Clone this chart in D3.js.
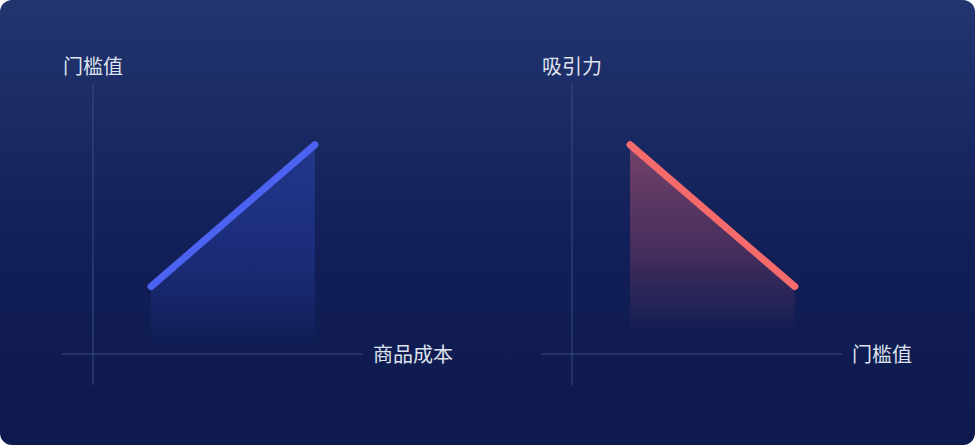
<!DOCTYPE html>
<html><head><meta charset="utf-8">
<script src="https://cdn.jsdelivr.net/npm/d3@7"></script>
<style>html,body{margin:0;padding:0;background:#fff;overflow:hidden}</style>
</head><body><svg id="c" width="975" height="445"></svg>
<script>
// data
const panels = ["left", "right"];
const yTitles = ["门槛值", "吸引力"];
const xTitles = ["商品成本", "门槛值"];
const xValues = [[2.15, 8.22], [2.15, 8.25]];
const yValues = [[2.5, 7.75], [7.75, 2.5]];
const lineColors = ["#4c63f2", "#f56b6b"];

const svg = d3.select("#c");
const defs = svg.append("defs");
const bg = defs.append("linearGradient").attr("id","bg").attr("x1",0).attr("y1",0).attr("x2",0).attr("y2",1);
bg.append("stop").attr("offset","0%").attr("stop-color","#22356f");
bg.append("stop").attr("offset","55%").attr("stop-color","#121f58");
bg.append("stop").attr("offset","100%").attr("stop-color","#0e1a4c");
svg.append("rect").attr("x",0).attr("y",0).attr("width",975).attr("height",445).attr("rx",12).attr("fill","url(#bg)");

const areaStops = [
  [["0%","#2b44b0",0.55],["60%","#2a43b0",0.35],["100%","#2a43b0",0]],
  [["0%","#ff6b78",0.4],["55%","#d0566a",0.28],["100%","#c05066",0]]
];
const areaBottom = [0.2, 0.7];

panels.forEach((p, i) => {
  const ox = i === 0 ? 93 : 572;
  const x = d3.scaleLinear().domain([0, 10]).range([ox, ox + 270]);
  const y = d3.scaleLinear().domain([0, 10]).range([354, 84]);
  const g = svg.append("g");
  // axes
  g.append("line").attr("x1", x(0)).attr("x2", x(0)).attr("y1", y(10)).attr("y2", 385)
    .attr("stroke", "#3b4a80").attr("stroke-width", 1);
  g.append("line").attr("x1", x(0) - 31).attr("x2", x(10)).attr("y1", y(0)).attr("y2", y(0))
    .attr("stroke", "#3b4a80").attr("stroke-width", 1.2);
  g.append("text").attr("x", x(0) - 30).attr("y", 74).text(yTitles[i])
    .attr("fill", "#dde2ee").attr("font-size", 20).attr("font-family", "'Noto Sans CJK SC', sans-serif");
  g.append("text").attr("x", x(10) + 10).attr("y", 362).text(xTitles[i])
    .attr("fill", "#dde2ee").attr("font-size", 20).attr("font-family", "'Noto Sans CJK SC', sans-serif");

  const pts = xValues[i].map((v, k) => [v, yValues[i][k]]);
  const gid = "ag" + i;
  const topY = y(d3.max(yValues[i]));
  const grad = defs.append("linearGradient").attr("id", gid).attr("gradientUnits","userSpaceOnUse")
    .attr("x1",0).attr("y1",topY).attr("x2",0).attr("y2",y(areaBottom[i]));
  areaStops[i].forEach(s => grad.append("stop").attr("offset", s[0]).attr("stop-color", s[1]).attr("stop-opacity", s[2]));
  const area = d3.area().x(d => x(d[0])).y0(y(areaBottom[i])).y1(d => y(d[1]));
  g.append("path").datum(pts).attr("d", area).attr("fill", `url(#${gid})`);
  const line = d3.line().x(d => x(d[0])).y(d => y(d[1]));
  g.append("path").datum(pts).attr("d", line).attr("fill","none")
    .attr("stroke", lineColors[i]).attr("stroke-width", 7).attr("stroke-linecap","round");
});
</script></body></html>
